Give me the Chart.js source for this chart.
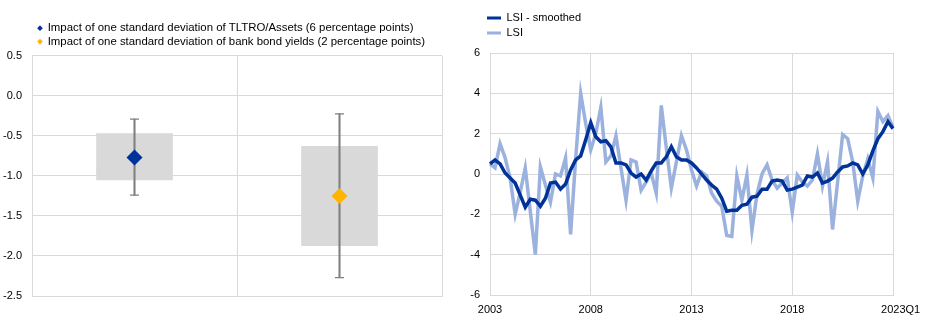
<!DOCTYPE html>
<html>
<head>
<meta charset="utf-8">
<script src="https://cdn.jsdelivr.net/npm/chart.js@4.4.1/dist/chart.umd.min.js"></script>
<style>
html, body { margin: 0; padding: 0; background: #ffffff; }
#wrap { position: relative; width: 940px; height: 329px; overflow: hidden; }
#c1 { position: absolute; left: 0; top: 0; }
#c2 { position: absolute; left: 450px; top: 0; }
</style>
</head>
<body>
<div id="wrap">
  <canvas id="c1" width="450" height="329"></canvas>
  <canvas id="c2" width="490" height="329"></canvas>
</div>
<script>
// ---------- Left panel data ----------
const impactCategories = ['TLTRO/Assets', 'Bank bond yields'];
const legendTLTRO = 'Impact of one standard deviation of TLTRO/Assets (6 percentage points)';
const legendBond = 'Impact of one standard deviation of bank bond yields (2 percentage points)';
const impactTLTRO = [-0.77, null];
const impactBond = [null, -1.25];
const bandLow = [-1.05, -1.87];
const bandHigh = [-0.47, -0.63];
const errorLow = [-1.24, -2.27];
const errorHigh = [-0.29, -0.225];
const leftTickMin = -2.5, leftTickMax = 0.5, leftTickStep = 0.5;

// ---------- Right panel data (quarterly, 2003Q1 - 2023Q1) ----------
const firstYear = 2003;
const lastYear = 2023;
const quarterLabels = [];
for (let y = firstYear; y <= lastYear; y++) {
  for (let q = 1; q <= 4; q++) {
    if (y === lastYear && q > 1) break;
    quarterLabels.push(y + 'Q' + q);
  }
}
const shownYearTicks = ['2003Q1', '2008Q1', '2013Q1', '2018Q1'];
const lastTickLabel = '2023Q1';
const lsiSmoothed = [
  0.5, 0.7, 0.5, 0.05, -0.2, -0.45, -1.05, -1.65, -1.25, -1.3,
  -1.6, -1.2, -0.45, -0.4, -0.75, -0.5, 0.2, 0.7, 0.9, 1.7,
  2.55, 1.85, 1.6, 1.65, 1.35, 0.55, 0.55, 0.45, 0.05, -0.15,
  0.0, -0.3, 0.15, 0.55, 0.55, 0.85, 1.35, 0.85, 0.7, 0.7,
  0.55, 0.3, 0.0, -0.3, -0.55, -0.75, -1.2, -1.85, -1.8, -1.8,
  -1.55, -1.5, -1.15, -1.1, -0.75, -0.75, -0.35, -0.3, -0.35, -0.8,
  -0.75, -0.65, -0.55, -0.1, -0.15, 0.05, -0.45, -0.35, -0.2, 0.1,
  0.35, 0.4, 0.55, 0.45, 0.0, 0.45, 1.15, 1.75, 2.1, 2.6,
  2.25
];
const lsi = [
  0.5, 0.3, 1.5, 0.8, -0.2, -2.0, -0.9, 0.3, -1.85, -4.0,
  0.35, -0.55, -1.4, 0.0, -0.1, 0.8, -3.0, 0.75, 4.0, 2.5,
  1.2, 2.0, 3.3, 0.6, 0.9, 1.9, 0.3, -1.3, 0.7, 0.6,
  -0.8, -0.4, 0.05, -0.95, 3.4, 1.3, -0.7, 0.6, 1.9, 1.2,
  0.2, -0.6, 0.1, -0.1, -0.95, -1.35, -1.6, -3.05, -3.1, -0.1,
  -1.3, -0.05, -2.8, -1.0, 0.0, 0.45, -0.3, -0.7, -0.45, -0.2,
  -1.9, -0.05, -0.4, -0.6, -0.3, 1.0, -0.6, 0.6, -2.75, -0.4,
  1.95, 1.75, 0.6, -1.35, -0.1, 0.75, -0.2, 3.1, 2.6, 2.9,
  2.3
];

// ---------- Styling ----------
const DARK_BLUE = '#003299';
const YELLOW = '#FFB400';
const LIGHT_BLUE = '#9bb1de';
const BAND_GREY = '#d9d9d9';
const WHISKER_GREY = '#7f7f7f';
const GRID = '#d9d9d9';

Chart.defaults.font.family = '"Liberation Sans", Arial, sans-serif';
Chart.defaults.font.size = 11;
Chart.defaults.color = '#000000';
Chart.defaults.animation = false;

// shifts the drawn legend (layout space is unaffected)
const legendShift = {
  id: 'legendShift',
  afterUpdate(chart, args, opts) {
    const lg = chart.legend;
    if (!lg) return;
    lg.left += opts.dx || 0;
    lg.top += opts.dy || 0;
    lg.bottom = opts.height ? lg.top + opts.height : lg.bottom + (opts.dy || 0);
    lg.right = opts.width ? lg.left + opts.width : lg.right + (opts.dx || 0);
  }
};

function noBorderLabels(chart) {
  return Chart.defaults.plugins.legend.labels.generateLabels(chart).map(l => Object.assign(l, { lineWidth: 0 }));
}

// ---------- Left chart ----------
new Chart(document.getElementById('c1'), {
  type: 'bar',
  data: {
    labels: impactCategories,
    datasets: [
      { type: 'line', label: legendTLTRO, data: impactTLTRO, showLine: false,
        pointStyle: 'rectRot', pointRadius: 8, pointBorderWidth: 0,
        backgroundColor: DARK_BLUE, borderColor: DARK_BLUE, order: 0 },
      { type: 'line', label: legendBond, data: impactBond, showLine: false,
        pointStyle: 'rectRot', pointRadius: 8, pointBorderWidth: 0,
        backgroundColor: YELLOW, borderColor: YELLOW, order: 0 },
      { type: 'line', label: 'capHigh', data: errorHigh, showLine: false,
        pointStyle: 'line', pointRadius: 4.5, pointBorderWidth: 1.3,
        pointBorderColor: WHISKER_GREY, borderColor: WHISKER_GREY, order: 1 },
      { type: 'line', label: 'capLow', data: errorLow, showLine: false,
        pointStyle: 'line', pointRadius: 4.5, pointBorderWidth: 1.3,
        pointBorderColor: WHISKER_GREY, borderColor: WHISKER_GREY, order: 1 },
      { type: 'bar', label: 'whisker', data: errorLow.map((v, i) => [v, errorHigh[i]]),
        backgroundColor: WHISKER_GREY, barThickness: 1.4, grouped: false, order: 2 },
      { type: 'bar', label: 'band', data: bandLow.map((v, i) => [v, bandHigh[i]]),
        backgroundColor: BAND_GREY, barThickness: 76, grouped: false, order: 3 }
    ]
  },
  options: {
    responsive: false,
    events: [],
    layout: { padding: { left: 0, right: 4, top: 19, bottom: 0 } },
    plugins: {
      tooltip: { enabled: false },
      legendShift: { dx: 36, dy: 1.5 },
      legend: {
        position: 'top',
        align: 'start',
        labels: {
          usePointStyle: true,
          boxWidth: 4,
          boxHeight: 4,
          padding: 2,
          color: '#000000',
          font: { size: 11.4 },
          filter: (item) => item.datasetIndex < 2,
          generateLabels: noBorderLabels
        }
      }
    },
    scales: {
      x: {
        offset: true,
        grid: { color: GRID, lineWidth: 1, offset: true, drawTicks: false },
        border: { color: GRID },
        ticks: { display: false },
        afterFit: (s) => { s.height = 33; }
      },
      y: {
        min: leftTickMin,
        max: leftTickMax,
        ticks: { stepSize: leftTickStep, padding: 10, callback: (v) => Number(v).toFixed(1) },
        grid: { color: GRID, lineWidth: 1, drawTicks: false },
        border: { color: GRID },
        afterFit: (s) => { s.width = 32; }
      }
    }
  },
  plugins: [legendShift]
});

// ---------- Right chart ----------
new Chart(document.getElementById('c2'), {
  type: 'line',
  data: {
    labels: quarterLabels,
    datasets: [
      { label: 'LSI - smoothed', data: lsiSmoothed, borderColor: DARK_BLUE, backgroundColor: DARK_BLUE,
        borderWidth: 3.5, pointRadius: 0, tension: 0, order: 0 },
      { label: 'LSI', data: lsi, borderColor: LIGHT_BLUE, backgroundColor: LIGHT_BLUE,
        borderWidth: 3.5, pointRadius: 0, tension: 0, order: 1 }
    ]
  },
  options: {
    responsive: false,
    events: [],
    layout: { padding: { left: 0, right: 47, top: 28, bottom: 0 } },
    plugins: {
      tooltip: { enabled: false },
      legendShift: { dx: 33, dy: -19.5, width: 120, height: 44 },
      legend: {
        position: 'top',
        align: 'start',
        labels: {
          boxWidth: 14,
          boxHeight: 3,
          padding: 4,
          color: '#000000',
          font: { size: 11 },
          generateLabels: noBorderLabels
        }
      }
    },
    scales: {
      x: {
        offset: false,
        grid: {
          color: (ctx) => {
            const lbl = quarterLabels[ctx.index];
            return (shownYearTicks.includes(lbl) || lbl === lastTickLabel) ? GRID : 'rgba(0,0,0,0)';
          },
          lineWidth: 1,
          drawTicks: false
        },
        border: { color: GRID },
        ticks: {
          autoSkip: false,
          maxRotation: 0,
          padding: 8,
          callback: function (value, index) {
            const lbl = quarterLabels[index];
            if (shownYearTicks.includes(lbl)) return lbl.slice(0, 4);
            if (lbl === lastTickLabel) return '     ' + lbl;
            return '';
          }
        },
        afterFit: (s) => { s.height = 34; }
      },
      y: {
        min: -6,
        max: 6,
        ticks: { stepSize: 2, padding: 10 },
        grid: { color: GRID, lineWidth: 1, drawTicks: false },
        border: { color: GRID },
        afterFit: (s) => { s.width = 40; }
      }
    }
  },
  plugins: [legendShift]
});
</script>
</body>
</html>
